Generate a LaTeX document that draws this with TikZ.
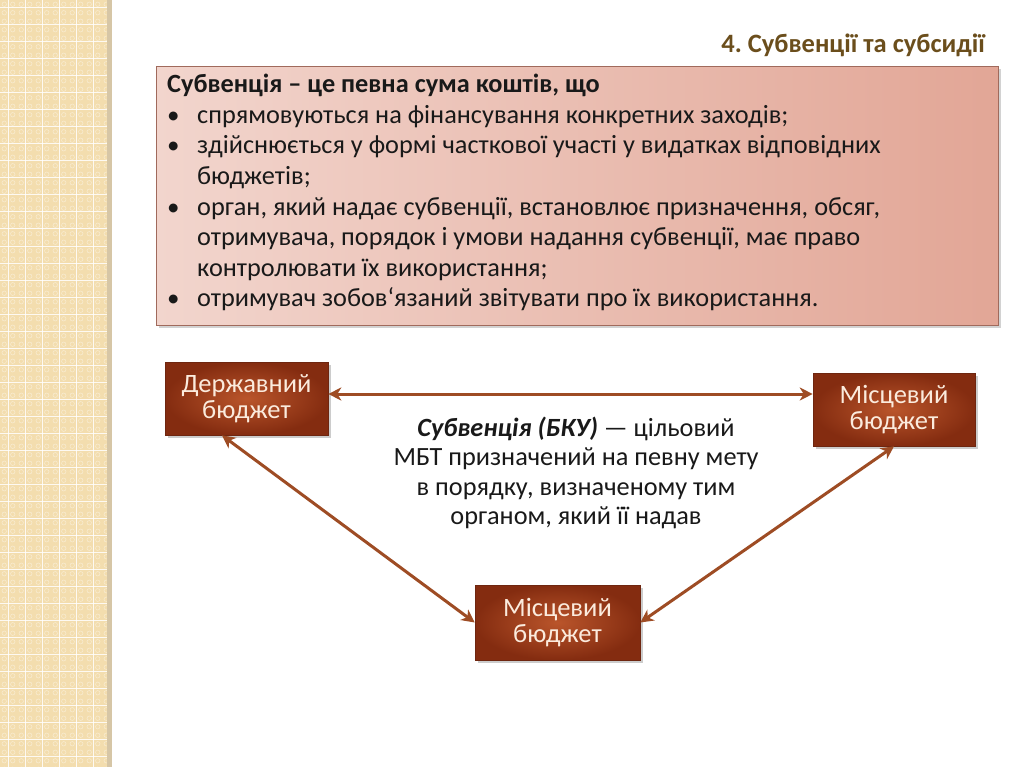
\documentclass[tikz,border=0pt]{standalone}
\usepackage{fontspec}
\setmainfont{Carlito}
\usetikzlibrary{arrows.meta,calc,shadows}
\definecolor{strip}{HTML}{F3DDAE}
\definecolor{band}{HTML}{D6C6A6}
\definecolor{titlec}{HTML}{6B4E1C}
\definecolor{pinkL}{HTML}{F2D5CD}
\definecolor{pinkR}{HTML}{E2A696}
\definecolor{pinkB}{HTML}{A06A5C}
\definecolor{brownIn}{HTML}{BA552B}
\definecolor{brownOut}{HTML}{842C10}
\definecolor{brownB}{HTML}{6E2610}
\definecolor{boxtxt}{HTML}{FBEBDD}
\definecolor{arrc}{HTML}{9E4C24}
\tikzset{
  pinkbox/.style={rectangle, draw=pinkB, line width=0.8pt, left color=pinkL, right color=pinkR,
    drop shadow={shadow xshift=2.5pt, shadow yshift=-2.5pt, opacity=0.35}},
  bbox/.style={rectangle, draw=brownB, line width=0.6pt, inner color=brownIn, outer color=brownOut,
    text=boxtxt, align=center, font=\fontsize{26.5}{26.5}\selectfont,
    drop shadow={shadow xshift=2.5pt, shadow yshift=-2.5pt, opacity=0.4}},
  bodyline/.style={anchor=base west, inner sep=0pt, text=black!90, font=\fontsize{26.3}{29}\selectfont},
  arr/.style={{Stealth[length=13pt,width=13pt,inset=4pt]}-{Stealth[length=13pt,width=13pt,inset=4pt]}, draw=arrc, line width=3pt},
}
\newcommand{\bul}{\makebox[30pt][l]{{\fontsize{25}{25}\selectfont•}}}
\frenchspacing
\begin{document}
\begin{tikzpicture}[x=1pt,y=-1pt]
\useasboundingbox (0,0) rectangle (1024,767);
\fill[white] (0,0) rectangle (1024,767);
% left textured strip
\fill[strip] (0,0) rectangle (107,767);
\foreach \i in {0,...,12}{
  \foreach \j in {0,...,90}{
    \draw[white, opacity=0.4, line width=0.6pt] (\i*8.5+4.25,\j*8.5+4.25) circle (2.2pt);
  }
}
\foreach \i in {0,...,6} \draw[white, opacity=0.85, line width=1pt] (\i*17+8,0) -- (\i*17+8,767);
\foreach \j in {0,...,45} \draw[white, opacity=0.85, line width=1pt] (0,\j*17+8) -- (107,\j*17+8);
\fill[band] (107,0) rectangle (112,767);
% title
\node[anchor=base east, inner sep=0pt, text=titlec, font=\fontsize{26.5}{28}\selectfont\bfseries] (title) at (985,53) {4. Субвенції та субсидії};
% definition box
\node[pinkbox, anchor=north west, minimum width=842pt, minimum height=259pt] (defbox) at (156,66) {};
\node[bodyline, font=\fontsize{26.3}{29}\selectfont\bfseries] (l1) at (167,93) {Субвенція – це певна сума коштів, що};
\node[bodyline] (l2) at (167,123.5) {\bul спрямовуються на фінансування конкретних заходів;};
\node[bodyline] (l3) at (167,154) {\bul здійснюється у формі часткової участі у видатках відповідних};
\node[bodyline] (l4) at (197,184.5) {бюджетів;};
\node[bodyline] (l5) at (167,215) {\bul орган, який надає субвенції, встановлює призначення, обсяг,};
\node[bodyline] (l6) at (197,245.5) {отримувача, порядок і умови надання субвенції, має право};
\node[bodyline] (l7) at (197,276) {контролювати їх використання;};
\node[bodyline] (l8) at (167,306.5) {\bul отримувач зобов‘язаний звітувати про їх використання.};
% budget boxes
\node[bbox, minimum width=163pt, minimum height=73pt] (ls) at (246.5,398.5) {Державний\\бюджет};
\node[bbox, minimum width=162pt, minimum height=73pt] (rs) at (894,409.5) {Місцевий\\бюджет};
\node[bbox, minimum width=165pt, minimum height=75pt] (bs) at (557.5,622.5) {Місцевий\\бюджет};
% centre text
\node[align=center, inner sep=0pt, text=black!90, font=\fontsize{26.3}{29.5}\selectfont] (ctext) at (576,473)
  {\textbf{\textit{Субвенція (БКУ)}} — цільовий\\МБТ призначений на певну мету\\в порядку, визначеному тим\\органом, який її надав};
% connectors
\coordinate (h) at ([yshift=4.5pt]ls.east);
\draw[arr] (h) -- (h -| rs.west);
\draw[arr] ($(ls.south west)!0.35!(ls.south east)$) -- (bs.west);
\draw[arr] (rs.south) -- (bs.east);
\end{tikzpicture}
\end{document}
